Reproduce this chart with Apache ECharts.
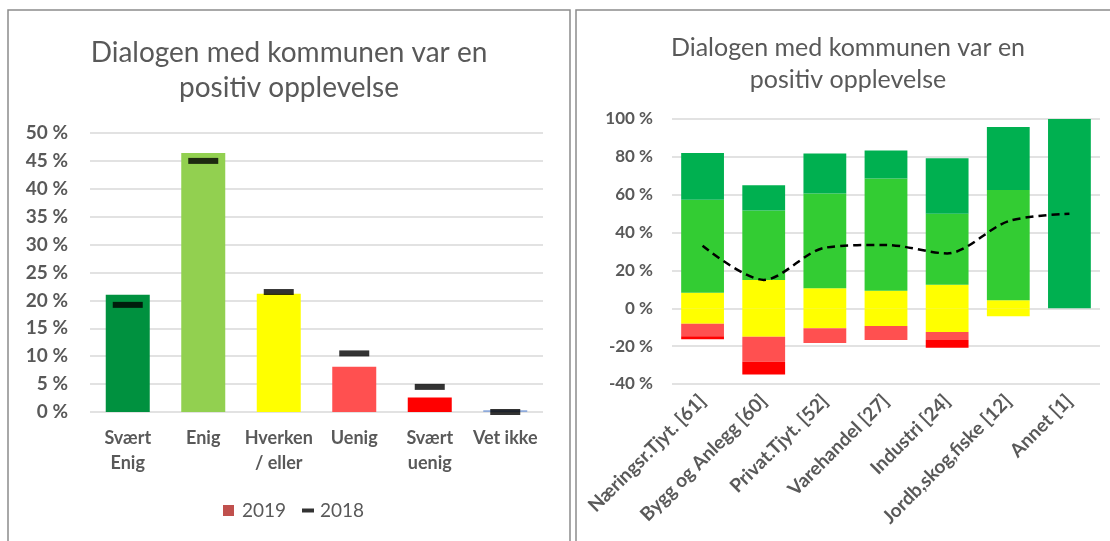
<!DOCTYPE html>
<html><head><meta charset="utf-8">
<script src="https://cdn.jsdelivr.net/npm/echarts@6/dist/echarts.min.js"></script>
<style>html,body{margin:0;padding:0;background:#fff}#c{width:1110px;height:541px}</style>
</head><body><div id="c"></div>
<script>
// ---------- Left chart data ----------
const leftCategories = ['Svært\nEnig', 'Enig', 'Hverken\n/ eller', 'Uenig', 'Svært\nuenig', 'Vet ikke'];
const values2019 = [21.0, 46.4, 21.2, 8.1, 2.6, 0.3];
const values2018 = [19.2, 45.0, 21.5, 10.5, 4.5, 0.0];
const leftColors = ['#00913f', '#92d050', '#ffff00', '#ff5050', '#ff0000', '#8eaadb'];

// ---------- Right chart data ----------
const rightCategories = ['Næringsr.Tjyt. [61]', 'Bygg og Anlegg [60]', 'Privat.Tjyt. [52]', 'Varehandel [27]', 'Industri [24]', 'Jordb,skog,fiske [12]', 'Annet [1]'];
const neutralPos   = [8.2, 15.0, 10.6, 9.3, 12.5, 4.2, null];
const agree        = [49.2, 36.7, 50.0, 59.3, 37.5, 58.3, null];
const stronglyAgree= [24.6, 13.3, 21.2, 14.8, 29.2, 33.3, 100];
const neutralNeg   = [-8.2, -15.0, -10.6, -9.3, -12.5, -4.2, null];
const disagree     = [-6.6, -13.3, -7.7, -7.4, -4.2, null, null];
const stronglyDis  = [-1.6, -6.7, null, null, -4.2, null, null];
const netLine      = [33, 15, 32, 33.5, 29, 46, 50];

const FONT = 'Lato';
const TXT = '#595959';
const GRID = {color: '#d9d9d9', width: 1.5};

const chart = echarts.init(document.getElementById('c'), null, {renderer: 'canvas'});

function stackBar(name, data, color) {
  return {
    name, type: 'bar', xAxisIndex: 1, yAxisIndex: 1, stack: 'r', barWidth: '70%',
    data, itemStyle: {color}, emphasis: {disabled: true}
  };
}

const option = {
  animation: false,
  backgroundColor: '#ffffff',
  graphic: [
    {type: 'rect', shape: {x: 8, y: 10, width: 562, height: 600}, style: {fill: 'none', stroke: '#8c8c8c', lineWidth: 1.5}, silent: true},
    {type: 'rect', shape: {x: 576, y: 10, width: 600, height: 600}, style: {fill: 'none', stroke: '#8c8c8c', lineWidth: 1.5}, silent: true},
    {type: 'text', x: 289, y: 35, style: {text: 'Dialogen med kommunen var en\npositiv opplevelse', textAlign: 'center', textVerticalAlign: 'top', font: '28px Lato', lineHeight: 35, fill: TXT}, silent: true},
    {type: 'text', x: 848, y: 32, style: {text: 'Dialogen med kommunen var en\npositiv opplevelse', textAlign: 'center', textVerticalAlign: 'top', font: '25px Lato', lineHeight: 32, fill: TXT}, silent: true}
  ],
  legend: [
    {data: ['2019'], left: 223, top: 500, padding: 0, itemWidth: 11, itemHeight: 11, icon: 'rect',
     textStyle: {fontFamily: FONT, fontSize: 19, color: TXT, lineHeight: 21, padding: [0, 0, 0, 3]}, selectedMode: false},
    {data: ['2018'], left: 302, top: 500, padding: 0, itemWidth: 12, itemHeight: 4, icon: 'rect',
     textStyle: {fontFamily: FONT, fontSize: 19, color: TXT, lineHeight: 21, padding: [0, 0, 0, 1]}, selectedMode: false}
  ],
  grid: [
    {left: 90, top: 133, width: 453, height: 279},
    {left: 672, top: 119, width: 428, height: 265}
  ],
  xAxis: [
    {type: 'category', gridIndex: 0, data: leftCategories,
     axisLine: {show: false}, axisTick: {show: false},
     axisLabel: {fontFamily: FONT, fontWeight: 'bold', fontSize: 18, lineHeight: 25, color: TXT, margin: 14, interval: 0}},
    {type: 'category', gridIndex: 1, data: rightCategories,
     axisLine: {show: false, onZero: false}, axisTick: {show: false},
     axisLabel: {fontFamily: FONT, fontWeight: 'bold', fontSize: 19, color: TXT, margin: 14, rotate: 45, interval: 0}}
  ],
  yAxis: [
    {type: 'value', gridIndex: 0, min: 0, max: 50, interval: 5,
     axisLine: {show: false}, axisTick: {show: false}, splitLine: {lineStyle: GRID},
     axisLabel: {formatter: '{value} %', fontFamily: FONT, fontWeight: 'bold', fontSize: 19, color: TXT, margin: 22}},
    {type: 'value', gridIndex: 1, min: -40, max: 100, interval: 20,
     axisLine: {show: false}, axisTick: {show: false}, splitLine: {lineStyle: GRID},
     axisLabel: {formatter: '{value} %', fontFamily: FONT, fontWeight: 'bold', fontSize: 17, color: TXT, margin: 19}}
  ],
  series: [
    {name: '2019', type: 'bar', xAxisIndex: 0, yAxisIndex: 0, barWidth: 44,
     itemStyle: {color: '#c0504d'},
     data: values2019.map((v, i) => ({value: v, itemStyle: {color: leftColors[i]}}))},
    {name: '2018', type: 'scatter', xAxisIndex: 0, yAxisIndex: 0, symbol: 'rect', symbolSize: [30, 6], z: 5,
     itemStyle: {color: '#000000'}, data: values2018},
    stackBar('Nøytral +', neutralPos, '#ffff00'),
    stackBar('Enig', agree, '#33cc33'),
    stackBar('Svært enig', stronglyAgree, '#00b050'),
    stackBar('Nøytral -', neutralNeg, '#ffff00'),
    stackBar('Uenig', disagree, '#ff5050'),
    stackBar('Svært uenig', stronglyDis, '#ff0000'),
    {name: 'Snitt', type: 'line', xAxisIndex: 1, yAxisIndex: 1, data: netLine, smooth: 0.3,
     symbol: 'none', z: 5, lineStyle: {color: '#000000', width: 2.5, type: [8, 5]}}
  ]
};
chart.setOption(option);
</script>
</body></html>
